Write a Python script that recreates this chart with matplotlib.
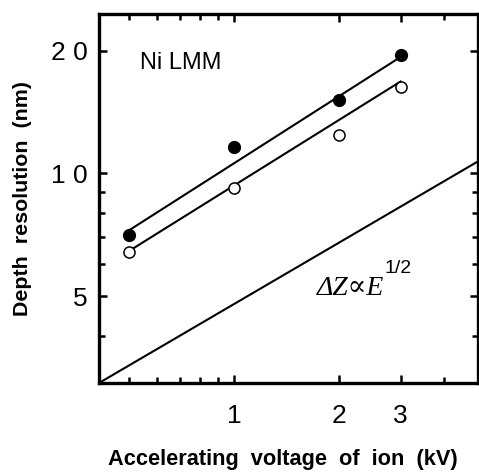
import numpy as np
import matplotlib
matplotlib.use("Agg")
import matplotlib.pyplot as plt
from matplotlib.ticker import FixedLocator, NullFormatter

# data (kV, nm)
voltage = [0.5, 1, 2, 3]
res_filled = [7.05, 11.6, 15.1, 19.5]
res_open = [6.41, 9.19, 12.45, 16.3]

# fitted lines (end points)
fit_x = [0.5, 3]
fit_filled = [7.25, 19.3]
fit_open = [6.45, 16.8]

# reference line dZ ~ E^1/2
ref_x = [0.41, 5.0]
ref_y = [3.06, 10.7]

x_major = [1, 2, 3]
x_minor = [0.5, 0.6, 0.7, 0.8, 0.9, 4]
y_major = [5, 10, 20]
y_minor = [4, 6, 7, 8, 9]
y_labels = ['5', '1 0', '2 0']

plt.rcParams['font.family'] = ['Liberation Sans', 'DejaVu Sans']

fig = plt.figure(figsize=(4.79, 4.74), dpi=100)
ax = fig.add_axes([99/479, 91/474, 379/479, 369/474])

ax.set_xscale('log')
ax.set_yscale('log')
ax.set_xlim(0.41, 5.0)
ax.set_ylim(3.06, 24.6)

ax.plot(fit_x, fit_filled, color='black', lw=1.5, zorder=2)
ax.plot(fit_x, fit_open, color='black', lw=1.5, zorder=2)
ax.plot(ref_x, ref_y, color='black', lw=1.5, zorder=2)

ax.plot(voltage, res_filled, 'o', ms=8.5, mfc='black', mec='black', zorder=3)
ax.plot(voltage, res_open, 'o', ms=8, mfc='white', mec='black', mew=1.1, zorder=3)

ax.xaxis.set_major_locator(FixedLocator(x_major))
ax.xaxis.set_minor_locator(FixedLocator(x_minor))
ax.set_xticklabels([str(v) for v in x_major])
ax.xaxis.set_minor_formatter(NullFormatter())
ax.yaxis.set_major_locator(FixedLocator(y_major))
ax.yaxis.set_minor_locator(FixedLocator(y_minor))
ax.set_yticklabels(y_labels)
ax.yaxis.set_minor_formatter(NullFormatter())

ax.tick_params(which='both', direction='in', top=True, right=True, width=1.8)
ax.tick_params(which='major', length=6)
ax.tick_params(which='minor', length=4)
ax.tick_params(axis='x', which='major', labelsize=19, pad=15)
ax.tick_params(axis='y', which='major', labelsize=19, pad=8)

for s in ax.spines.values():
    s.set_linewidth(2.4)

ax.set_xlabel('Accelerating  voltage  of  ion  (kV)', fontsize=15.7, fontweight='bold', labelpad=15)
ax.xaxis.label.set_x(0.484)
ax.set_ylabel('Depth  resolution  (nm)', fontsize=15.4, fontweight='bold', labelpad=14)

ax.text(0.537, 18.6, 'Ni LMM', fontsize=17, ha='left', va='center')
ax.text(1.73, 5.03, '\u0394Z\u221dE', fontsize=20, style='italic',
        family=['Liberation Serif', 'DejaVu Serif'], ha='left', va='baseline')
ax.text(2.70, 5.70, '1/2', fontsize=14, ha='left', va='baseline')

fig.savefig('out.png', dpi=100)
